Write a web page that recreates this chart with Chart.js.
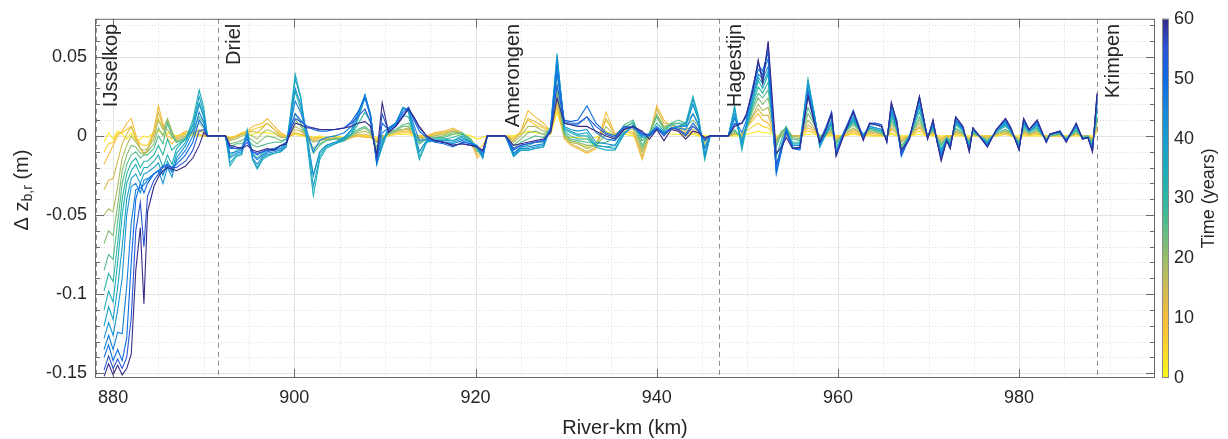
<!DOCTYPE html>
<html>
<head>
<meta charset="utf-8">
<script src="https://cdn.jsdelivr.net/npm/chart.js@4.4.1/dist/chart.umd.min.js"></script>
<style>
  html, body { margin: 0; padding: 0; background: #fff; }
  canvas { display: block; }
</style>
</head>
<body>
<canvas id="bedChart" width="1228" height="439"></canvas>
<script>
// River-km positions of the profile points
const riverKm = [
  879, 879.5, 880, 880.5, 881, 881.5, 882, 882.5, 883, 883.4, 883.8, 884.5, 885, 885.5, 886, 886.5, 887, 888, 888.8, 889.5, 890, 890.4, 891.5, 892.4,
  892.9, 893.6, 894.2, 894.8, 895.4, 895.9, 896.5, 897, 897.8, 898.5, 899.1, 899.6, 900.1, 900.7, 901.4, 902.1, 902.8, 903.5, 904.5, 905.5, 906.3, 907, 907.8, 908.4, 909.1, 909.7, 910.4, 911.2, 912, 912.6, 913.2, 913.8, 914.6, 915.5, 916.5, 917.5, 918.5, 919.5, 920.2, 920.8, 921.3, 922.5, 923.3,
  924.2, 925, 925.8, 926.6, 927.5, 928.3, 929, 929.8, 930.5, 931.3, 932.3, 933.3, 934.4, 935.4, 936.4, 937.4, 938.4, 939.2, 940, 940.8, 941.6, 942.4, 943.2, 944, 944.6, 945.3, 945.9, 947, 947.9,
  948.6, 949.4, 949.9, 950.6, 951.2, 951.7, 952.3, 953.2, 953.8, 954.3, 955, 955.8, 956.7, 957.4, 958, 958.7, 959.3, 959.8, 960.7, 961.7, 962.8, 963.5, 964.2, 964.8, 965.4, 965.9, 966.5, 967, 967.9, 969, 969.9, 970.5, 971, 971.4, 972, 972.4, 973, 973.8, 974.5, 974.9, 975.6, 976.5, 977.5, 978.5, 979.1, 980, 980.5, 981.1, 982, 983, 983.4, 984.5, 985.2, 986.3, 987, 987.6, 988.1, 988.6
];

// Bed level change (m) per snapshot year
const dz60 = [
  -0.152, -0.144, -0.151, -0.145, -0.151, -0.147, -0.138, -0.085, -0.058, -0.106, -0.048, -0.032, -0.026, -0.022, -0.020, -0.021, -0.022, -0.019, -0.014, -0.006, 0.002, 0, 0, 0,
  -0.006, -0.007, -0.008, -0.006, -0.009, -0.010, -0.009, -0.008, -0.009, -0.006, -0.005, 0.002, 0.008, 0.007, 0.005, 0.005, 0.004, 0.004, 0.004, 0.005, 0.006, 0.008, 0.009, 0.006, -0.012, 0.021, 0.002, 0.006, 0.012, 0.017, 0.012, 0.006, 0.000, -0.003, -0.004, -0.006, -0.005, -0.006, -0.007, -0.009, 0, 0, 0,
  -0.006, -0.005, -0.004, -0.003, -0.002, 0.002, 0.024, 0.008, 0.007, 0.006, 0.006, 0.003, 0.000, -0.002, 0.004, 0.006, 0.003, -0.002, 0.004, -0.003, 0.004, 0.003, -0.002, 0.003, 0.002, -0.001, 0, 0, 0,
  0.006, 0.008, 0.014, 0.028, 0.048, 0.033, 0.060, -0.011, -0.007, -0.001, -0.008, -0.007, 0.025, 0.008, -0.004, 0.004, 0.014, -0.013, 0.001, 0.015, -0.003, 0.008, 0.007, 0.006, -0.004, 0.021, 0.008, -0.009, -0.002, 0.025, -0.002, 0.010, -0.005, -0.016, -0.003, -0.008, 0.012, 0.006, -0.010, 0.005, 0.000, -0.007, 0.004, 0.011, 0.005, -0.009, 0.011, 0.004, 0.010, -0.004, 0.001, 0.003, -0.004, 0.008, -0.002, -0.001, -0.010, 0.027
];
const dz55 = [
  -0.148, -0.139, -0.147, -0.141, -0.147, -0.140, -0.115, -0.060, -0.042, -0.070, -0.038, -0.028, -0.024, -0.020, -0.019, -0.020, -0.020, -0.016, -0.009, 0.003, 0.004, 0, 0, 0,
  -0.007, -0.008, -0.008, -0.004, -0.010, -0.011, -0.010, -0.009, -0.009, -0.006, -0.005, 0.004, 0.011, 0.009, 0.006, 0.005, 0.004, 0.004, 0.004, 0.005, 0.008, 0.012, 0.017, 0.009, -0.015, 0.014, 0.003, 0.006, 0.013, 0.018, 0.011, 0.005, 0.000, -0.003, -0.004, -0.006, -0.005, -0.006, -0.007, -0.010, 0, 0, 0,
  -0.008, -0.006, -0.005, -0.004, -0.003, 0.003, 0.032, 0.009, 0.008, 0.008, 0.012, 0.006, 0.001, -0.001, 0.005, 0.006, 0.002, 0.000, 0.005, 0.000, 0.005, 0.004, 0.000, 0.006, 0.003, -0.002, 0, 0, 0,
  0.007, 0.008, 0.013, 0.030, 0.047, 0.037, 0.057, -0.018, -0.008, 0.002, -0.008, -0.008, 0.026, 0.009, -0.004, 0.005, 0.015, -0.012, 0.002, 0.016, -0.002, 0.008, 0.008, 0.007, -0.004, 0.021, 0.009, -0.011, -0.002, 0.025, -0.002, 0.010, -0.005, -0.015, -0.003, -0.008, 0.012, 0.006, -0.010, 0.005, 0.000, -0.007, 0.004, 0.011, 0.005, -0.009, 0.011, 0.004, 0.010, -0.004, 0.001, 0.003, -0.004, 0.008, -0.002, -0.001, -0.010, 0.026
];
const dz50 = [
  -0.140, -0.132, -0.142, -0.135, -0.142, -0.128, -0.080, -0.040, -0.030, -0.036, -0.030, -0.024, -0.022, -0.019, -0.018, -0.020, -0.018, -0.012, -0.004, 0.010, 0.006, 0, 0, 0,
  -0.008, -0.008, -0.007, -0.002, -0.010, -0.012, -0.010, -0.009, -0.008, -0.006, -0.004, 0.006, 0.014, 0.010, 0.006, 0.004, 0.003, 0.003, 0.004, 0.005, 0.009, 0.015, 0.024, 0.012, -0.016, 0.008, 0.004, 0.007, 0.015, 0.018, 0.010, 0.003, -0.001, -0.004, -0.005, -0.007, -0.004, -0.005, -0.007, -0.010, 0, 0, 0,
  -0.009, -0.006, -0.005, -0.004, -0.003, 0.004, 0.040, 0.010, 0.009, 0.010, 0.019, 0.008, 0.002, 0.000, 0.006, 0.005, 0.001, 0.001, 0.006, 0.002, 0.005, 0.004, 0.001, 0.008, 0.004, -0.003, 0, 0, 0,
  0.008, 0.008, 0.012, 0.031, 0.045, 0.041, 0.053, -0.024, -0.009, 0.004, -0.008, -0.009, 0.026, 0.010, -0.003, 0.006, 0.015, -0.011, 0.003, 0.016, -0.001, 0.008, 0.008, 0.007, -0.003, 0.020, 0.010, -0.013, -0.001, 0.024, -0.001, 0.009, -0.005, -0.013, -0.003, -0.007, 0.011, 0.005, -0.009, 0.005, 0.000, -0.006, 0.004, 0.010, 0.004, -0.008, 0.010, 0.004, 0.009, -0.004, 0.001, 0.003, -0.003, 0.007, -0.002, -0.001, -0.009, 0.025
];
const dz46 = [
  -0.135, -0.126, -0.135, -0.124, -0.125, -0.095, -0.055, -0.034, -0.033, -0.031, -0.028, -0.024, -0.022, -0.024, -0.019, -0.023, -0.016, -0.009, 0.000, 0.015, 0.009, 0, 0, 0,
  -0.011, -0.010, -0.009, 0.000, -0.012, -0.015, -0.012, -0.010, -0.009, -0.008, -0.005, 0.008, 0.022, 0.015, 0.003, -0.010, -0.003, -0.001, 0.000, 0.002, 0.006, 0.014, 0.026, 0.013, -0.017, 0.002, 0.005, 0.008, 0.017, 0.017, 0.007, -0.003, -0.002, -0.003, -0.004, -0.005, -0.003, -0.005, -0.007, -0.012, 0, 0, 0,
  -0.011, -0.007, -0.007, -0.006, -0.005, 0.005, 0.046, 0.008, 0.007, 0.007, 0.012, 0.002, -0.002, -0.003, 0.004, 0.006, 0.001, 0.001, 0.005, 0.002, 0.005, 0.005, 0.004, 0.014, 0.007, -0.008, 0, 0, 0,
  0.011, 0.002, 0.010, 0.029, 0.042, 0.039, 0.049, -0.023, -0.008, 0.004, -0.007, -0.008, 0.029, 0.012, -0.005, 0.004, 0.013, -0.011, 0.003, 0.014, -0.001, 0.007, 0.007, 0.006, -0.003, 0.018, 0.008, -0.012, -0.001, 0.022, -0.001, 0.008, -0.005, -0.012, -0.003, -0.007, 0.010, 0.005, -0.009, 0.005, 0.000, -0.006, 0.004, 0.009, 0.004, -0.008, 0.009, 0.004, 0.008, -0.004, 0.001, 0.003, -0.003, 0.007, -0.002, -0.001, -0.009, 0.024
];
const dz42 = [
  -0.128, -0.118, -0.126, -0.110, -0.090, -0.050, -0.032, -0.030, -0.036, -0.028, -0.027, -0.024, -0.022, -0.030, -0.020, -0.026, -0.014, -0.006, 0.004, 0.020, 0.012, 0, 0, 0,
  -0.014, -0.011, -0.010, 0.002, -0.014, -0.018, -0.013, -0.011, -0.010, -0.009, -0.006, 0.010, 0.030, 0.020, 0.000, -0.025, -0.010, -0.006, -0.004, -0.001, 0.004, 0.012, 0.026, 0.014, -0.018, -0.004, 0.005, 0.008, 0.018, 0.016, 0.004, -0.010, -0.003, -0.003, -0.004, -0.004, -0.002, -0.004, -0.006, -0.013, 0, 0, 0,
  -0.012, -0.008, -0.008, -0.007, -0.006, 0.006, 0.050, 0.006, 0.004, 0.003, 0.004, -0.004, -0.005, -0.006, 0.002, 0.006, 0.000, 0.001, 0.004, 0.001, 0.005, 0.006, 0.006, 0.020, 0.010, -0.012, 0, 0, 0,
  0.014, -0.004, 0.008, 0.026, 0.039, 0.036, 0.044, -0.021, -0.006, 0.003, -0.006, -0.006, 0.032, 0.013, -0.006, 0.002, 0.010, -0.010, 0.002, 0.012, 0.000, 0.006, 0.005, 0.004, -0.002, 0.016, 0.006, -0.011, 0.000, 0.019, -0.001, 0.007, -0.004, -0.011, -0.002, -0.006, 0.009, 0.004, -0.008, 0.004, 0.000, -0.005, 0.003, 0.008, 0.003, -0.007, 0.008, 0.003, 0.007, -0.003, 0.001, 0.002, -0.003, 0.006, -0.001, -0.001, -0.008, 0.022
];
const dz38 = [
  -0.120, -0.108, -0.116, -0.096, -0.070, -0.040, -0.027, -0.024, -0.030, -0.024, -0.023, -0.020, -0.017, -0.025, -0.016, -0.022, -0.011, -0.004, 0.007, 0.025, 0.015, 0, 0, 0,
  -0.017, -0.012, -0.011, 0.003, -0.015, -0.020, -0.014, -0.012, -0.011, -0.010, -0.007, 0.013, 0.036, 0.024, -0.002, -0.032, -0.013, -0.007, -0.005, -0.002, 0.003, 0.011, 0.025, 0.014, -0.018, -0.006, 0.005, 0.008, 0.018, 0.016, 0.002, -0.013, -0.004, -0.003, -0.003, -0.003, -0.001, -0.004, -0.007, -0.014, 0, 0, 0,
  -0.013, -0.009, -0.009, -0.008, -0.007, 0.006, 0.052, 0.005, 0.003, 0.001, 0.002, -0.006, -0.007, -0.008, 0.001, 0.007, -0.001, 0.000, 0.004, 0.001, 0.005, 0.006, 0.007, 0.023, 0.012, -0.014, 0, 0, 0,
  0.017, -0.007, 0.006, 0.024, 0.037, 0.033, 0.041, -0.020, -0.006, 0.003, -0.006, -0.006, 0.034, 0.014, -0.007, 0.002, 0.009, -0.010, 0.002, 0.011, 0.000, 0.006, 0.005, 0.004, -0.002, 0.015, 0.006, -0.011, 0.000, 0.019, -0.001, 0.007, -0.004, -0.010, -0.002, -0.006, 0.009, 0.004, -0.007, 0.004, 0.000, -0.005, 0.003, 0.008, 0.003, -0.007, 0.008, 0.003, 0.007, -0.003, 0.001, 0.002, -0.002, 0.006, -0.001, -0.001, -0.008, 0.020
];
const dz34 = [
  -0.110, -0.098, -0.105, -0.080, -0.050, -0.030, -0.022, -0.018, -0.025, -0.020, -0.020, -0.016, -0.012, -0.020, -0.012, -0.018, -0.008, -0.002, 0.010, 0.029, 0.018, 0, 0, 0,
  -0.019, -0.013, -0.012, 0.004, -0.015, -0.021, -0.015, -0.013, -0.011, -0.010, -0.007, 0.015, 0.039, 0.025, -0.004, -0.038, -0.015, -0.008, -0.005, -0.003, 0.001, 0.010, 0.024, 0.014, -0.017, -0.007, 0.004, 0.008, 0.018, 0.015, 0.000, -0.015, -0.004, -0.002, -0.002, -0.003, 0.000, -0.004, -0.008, -0.014, 0, 0, 0,
  -0.013, -0.009, -0.009, -0.008, -0.007, 0.005, 0.045, 0.004, 0.002, 0.000, 0.000, -0.007, -0.009, -0.009, 0.001, 0.007, -0.001, 0.000, 0.004, 0.001, 0.005, 0.006, 0.008, 0.025, 0.013, -0.015, 0, 0, 0,
  0.019, -0.009, 0.005, 0.022, 0.035, 0.030, 0.039, -0.019, -0.005, 0.003, -0.005, -0.005, 0.036, 0.014, -0.007, 0.001, 0.008, -0.009, 0.002, 0.010, 0.001, 0.005, 0.004, 0.003, -0.002, 0.014, 0.005, -0.010, 0.000, 0.018, 0.000, 0.006, -0.003, -0.009, -0.002, -0.005, 0.008, 0.004, -0.006, 0.003, 0.000, -0.004, 0.003, 0.007, 0.003, -0.006, 0.007, 0.003, 0.006, -0.003, 0.001, 0.002, -0.002, 0.005, -0.001, -0.001, -0.007, 0.018
];
const dz30 = [
  -0.098, -0.087, -0.092, -0.068, -0.040, -0.024, -0.017, -0.014, -0.020, -0.016, -0.016, -0.012, -0.006, -0.012, -0.002, -0.009, -0.006, -0.002, 0.007, 0.021, 0.013, 0, 0, 0,
  -0.013, -0.009, -0.008, 0.002, -0.011, -0.014, -0.011, -0.009, -0.008, -0.007, -0.005, 0.011, 0.028, 0.017, -0.002, -0.025, -0.011, -0.006, -0.004, -0.002, 0.001, 0.007, 0.015, 0.009, -0.013, -0.004, 0.003, 0.006, 0.013, 0.012, 0.001, -0.010, -0.003, -0.002, -0.002, -0.001, 0.001, -0.003, -0.008, -0.013, 0, 0, 0,
  -0.011, -0.007, -0.006, -0.004, -0.004, 0.005, 0.040, 0.003, 0.000, -0.002, -0.002, -0.006, -0.007, -0.006, 0.004, 0.009, -0.003, 0.001, 0.008, 0.003, 0.007, 0.008, 0.008, 0.020, 0.011, -0.012, 0, 0, 0,
  0.012, -0.005, 0.005, 0.020, 0.031, 0.027, 0.034, -0.013, -0.002, 0.005, -0.004, -0.004, 0.027, 0.011, -0.004, 0.002, 0.007, -0.007, 0.002, 0.009, 0.001, 0.005, 0.004, 0.003, -0.002, 0.012, 0.005, -0.009, 0.000, 0.015, 0.000, 0.005, -0.003, -0.008, -0.002, -0.004, 0.007, 0.003, -0.005, 0.003, 0.000, -0.004, 0.003, 0.006, 0.003, -0.005, 0.006, 0.003, 0.005, -0.003, 0.001, 0.002, -0.002, 0.004, -0.001, -0.001, -0.006, 0.015
];
const dz26 = [
  -0.085, -0.075, -0.078, -0.055, -0.030, -0.018, -0.012, -0.010, -0.014, -0.012, -0.012, -0.008, 0.000, -0.005, 0.008, 0.000, -0.004, -0.002, 0.004, 0.012, 0.008, 0, 0, 0,
  -0.007, -0.005, -0.005, -0.002, -0.006, -0.007, -0.006, -0.005, -0.004, -0.004, -0.002, 0.006, 0.014, 0.008, 0.000, -0.011, -0.006, -0.003, -0.002, -0.001, 0.001, 0.004, 0.006, 0.003, -0.009, -0.002, 0.002, 0.004, 0.007, 0.008, 0.003, -0.005, -0.002, -0.001, -0.001, 0.001, 0.002, -0.002, -0.009, -0.012, 0, 0, 0,
  -0.008, -0.004, -0.002, 0.000, -0.001, 0.004, 0.032, 0.002, -0.002, -0.003, -0.004, -0.005, -0.004, -0.001, 0.007, 0.010, -0.006, 0.002, 0.012, 0.004, 0.008, 0.010, 0.008, 0.014, 0.008, -0.008, 0, 0, 0,
  0.004, -0.002, 0.004, 0.018, 0.027, 0.024, 0.029, -0.007, 0.002, 0.006, -0.002, -0.003, 0.018, 0.008, -0.001, 0.002, 0.005, -0.005, 0.002, 0.008, 0.001, 0.004, 0.003, 0.002, -0.001, 0.010, 0.004, -0.007, 0.000, 0.012, 0.000, 0.004, -0.002, -0.006, -0.001, -0.003, 0.005, 0.002, -0.004, 0.002, 0.000, -0.003, 0.002, 0.004, 0.002, -0.004, 0.005, 0.002, 0.004, -0.002, 0.000, 0.001, -0.002, 0.003, -0.001, 0.000, -0.005, 0.012
];
const dz22 = [
  -0.068, -0.060, -0.063, -0.044, -0.022, -0.012, -0.006, -0.007, -0.011, -0.011, -0.010, -0.005, 0.005, 0.000, 0.010, 0.002, -0.004, -0.001, 0.003, 0.008, 0.005, 0, 0, 0,
  -0.005, -0.004, -0.003, 0.000, -0.003, -0.005, -0.002, 0.000, -0.001, -0.003, -0.002, 0.004, 0.010, 0.006, 0.000, -0.008, -0.005, -0.003, -0.002, -0.002, 0.000, 0.003, 0.005, 0.002, -0.007, -0.002, 0.001, 0.003, 0.006, 0.006, 0.002, -0.004, -0.002, -0.001, 0.000, 0.002, 0.002, -0.003, -0.010, -0.011, 0, 0, 0,
  -0.006, -0.002, 0.002, 0.003, 0.001, 0.004, 0.028, 0.001, -0.003, -0.004, -0.006, -0.006, 0.001, -0.001, 0.006, 0.008, -0.008, 0.002, 0.013, 0.005, 0.008, 0.008, 0.006, 0.010, 0.006, -0.006, 0, 0, 0,
  0.003, -0.001, 0.004, 0.016, 0.024, 0.020, 0.024, -0.005, 0.003, 0.005, -0.001, -0.002, 0.014, 0.007, -0.001, 0.002, 0.004, -0.004, 0.002, 0.007, 0.001, 0.004, 0.003, 0.002, -0.001, 0.009, 0.004, -0.006, 0.000, 0.010, 0.000, 0.004, -0.002, -0.005, -0.001, -0.003, 0.004, 0.002, -0.004, 0.002, 0.000, -0.003, 0.002, 0.004, 0.002, -0.004, 0.004, 0.002, 0.004, -0.002, 0.000, 0.001, -0.002, 0.003, -0.001, 0.000, -0.004, 0.010
];
const dz18 = [
  -0.050, -0.046, -0.048, -0.032, -0.014, -0.006, 0.000, -0.004, -0.008, -0.009, -0.008, -0.002, 0.010, 0.004, 0.011, 0.003, -0.003, 0.000, 0.002, 0.004, 0.003, 0, 0, 0,
  -0.003, -0.002, 0.000, 0.001, 0.000, -0.002, 0.002, 0.004, 0.002, -0.001, -0.001, 0.002, 0.006, 0.004, 0.000, -0.004, -0.003, -0.002, -0.001, -0.002, 0.000, 0.002, 0.003, 0.001, -0.004, -0.001, 0.001, 0.003, 0.004, 0.005, 0.002, -0.002, -0.001, 0.000, 0.001, 0.003, 0.002, -0.003, -0.010, -0.009, 0, 0, 0,
  -0.004, 0.000, 0.006, 0.006, 0.003, 0.003, 0.024, 0.000, -0.004, -0.005, -0.008, -0.006, 0.006, 0.000, 0.005, 0.006, -0.010, 0.001, 0.014, 0.006, 0.007, 0.006, 0.004, 0.006, 0.004, -0.004, 0, 0, 0,
  0.002, 0.000, 0.005, 0.013, 0.020, 0.016, 0.018, -0.003, 0.003, 0.004, 0.000, -0.001, 0.010, 0.005, 0.000, 0.001, 0.003, -0.003, 0.001, 0.005, 0.001, 0.003, 0.002, 0.001, -0.001, 0.007, 0.003, -0.004, 0.000, 0.008, 0.000, 0.003, -0.001, -0.004, -0.001, -0.002, 0.003, 0.001, -0.003, 0.001, 0.000, -0.002, 0.001, 0.003, 0.001, -0.003, 0.003, 0.001, 0.003, -0.001, 0.000, 0.001, -0.001, 0.002, 0.000, 0.000, -0.003, 0.008
];
const dz14 = [
  -0.034, -0.028, -0.027, -0.016, -0.005, 0.001, 0.006, -0.002, -0.008, -0.011, -0.009, 0.001, 0.015, 0.006, 0.004, -0.001, -0.002, 0.001, 0.002, 0.003, 0.002, 0, 0, 0,
  -0.002, -0.001, 0.001, 0.002, 0.003, 0.002, 0.005, 0.008, 0.004, 0.000, -0.001, 0.001, 0.004, 0.003, -0.001, -0.003, -0.002, -0.002, -0.002, -0.003, -0.001, 0.001, 0.001, 0.000, -0.004, -0.001, 0.001, 0.003, 0.004, 0.004, 0.001, -0.001, -0.001, 0.001, 0.002, 0.004, 0.002, -0.004, -0.012, -0.010, 0, 0, 0,
  -0.003, 0.002, 0.011, 0.009, 0.006, 0.003, 0.022, -0.001, -0.005, -0.007, -0.010, -0.007, 0.011, 0.001, 0.005, 0.004, -0.013, 0.001, 0.017, 0.008, 0.007, 0.005, 0.003, 0.004, 0.003, -0.003, 0, 0, 0,
  0.001, 0.001, 0.005, 0.012, 0.017, 0.013, 0.013, -0.003, 0.002, 0.003, 0.000, 0.000, 0.007, 0.004, 0.000, 0.001, 0.002, -0.002, 0.001, 0.004, 0.001, 0.002, 0.002, 0.001, -0.001, 0.005, 0.002, -0.003, 0.000, 0.006, 0.000, 0.002, -0.001, -0.003, 0.000, -0.001, 0.002, 0.001, -0.002, 0.001, 0.000, -0.001, 0.001, 0.002, 0.001, -0.002, 0.002, 0.001, 0.002, -0.001, 0.000, 0.001, -0.001, 0.001, 0.000, 0.000, -0.002, 0.006
];
const dz10 = [
  -0.018, -0.012, -0.006, 0.000, 0.003, 0.008, 0.011, 0.001, -0.008, -0.012, -0.010, 0.004, 0.019, 0.008, -0.002, -0.005, -0.001, 0.003, 0.002, 0.001, 0.000, 0, 0, 0,
  -0.002, 0.000, 0.002, 0.003, 0.006, 0.007, 0.008, 0.011, 0.006, 0.002, 0.000, 0.000, 0.002, 0.001, -0.001, -0.002, -0.001, -0.002, -0.002, -0.003, -0.001, 0.000, -0.001, -0.001, -0.003, 0.000, 0.001, 0.002, 0.003, 0.003, 0.001, 0.000, 0.000, 0.002, 0.003, 0.005, 0.002, -0.004, -0.014, -0.010, 0, 0, 0,
  -0.002, 0.003, 0.016, 0.012, 0.008, 0.003, 0.020, -0.002, -0.006, -0.008, -0.011, -0.008, 0.015, 0.001, 0.004, 0.002, -0.015, 0.000, 0.019, 0.010, 0.006, 0.004, 0.002, 0.003, 0.002, -0.002, 0, 0, 0,
  0.001, 0.002, 0.005, 0.010, 0.014, 0.010, 0.008, -0.002, 0.001, 0.002, 0.000, 0.000, 0.005, 0.003, 0.000, 0.001, 0.002, -0.001, 0.000, 0.003, 0.000, 0.002, 0.001, 0.001, -0.001, 0.004, 0.002, -0.002, 0.000, 0.005, 0.000, 0.002, -0.001, -0.002, 0.000, -0.001, 0.002, 0.001, -0.002, 0.001, 0.000, -0.001, 0.001, 0.002, 0.001, -0.002, 0.002, 0.001, 0.002, -0.001, 0.000, 0.000, -0.001, 0.001, 0.000, 0.000, -0.002, 0.005
];
const dz6 = [
  -0.010, -0.005, -0.004, 0.002, 0.002, 0.004, 0.006, -0.001, -0.005, -0.006, -0.006, 0.003, 0.011, 0.005, 0.000, -0.002, 0.000, 0.002, 0.001, 0.001, 0.000, 0, 0, 0,
  -0.001, 0.000, 0.002, 0.002, 0.004, 0.005, 0.006, 0.008, 0.004, 0.001, 0.000, 0.000, 0.002, 0.001, 0.000, -0.001, -0.001, -0.002, -0.001, -0.002, -0.001, 0.000, 0.000, -0.001, -0.002, 0.000, 0.000, 0.001, 0.002, 0.002, 0.001, 0.000, 0.000, 0.002, 0.002, 0.003, 0.001, -0.002, -0.008, -0.006, 0, 0, 0,
  -0.001, 0.002, 0.010, 0.007, 0.005, 0.002, 0.018, -0.001, -0.004, -0.005, -0.007, -0.005, 0.010, 0.001, 0.003, 0.001, -0.010, 0.000, 0.013, 0.006, 0.004, 0.003, 0.001, 0.002, 0.001, -0.001, 0, 0, 0,
  0.001, 0.001, 0.003, 0.006, 0.008, 0.006, 0.005, -0.001, 0.000, 0.001, 0.000, 0.000, 0.003, 0.002, 0.000, 0.000, 0.001, 0.000, 0.000, 0.002, 0.000, 0.001, 0.000, 0.000, 0.000, 0.002, 0.001, -0.001, 0.000, 0.003, 0.000, 0.001, 0.000, -0.001, 0.000, 0.000, 0.001, 0.000, -0.001, 0.000, 0.000, 0.000, 0.000, 0.001, 0.000, -0.001, 0.001, 0.000, 0.001, 0.000, 0.000, 0.000, 0.000, 0.001, 0.000, 0.000, -0.001, 0.003
];
const dz2 = [
  -0.004, 0.002, -0.002, 0.003, 0.001, -0.002, 0.002, -0.003, -0.002, 0.000, -0.001, 0.002, 0.003, 0.001, 0.002, 0.001, 0.000, 0.001, 0.000, 0.000, 0.000, 0, 0, 0,
  -0.001, 0.000, 0.001, 0.001, 0.001, 0.002, 0.002, 0.002, 0.001, 0.000, 0.000, 0.000, 0.001, 0.000, 0.000, -0.001, 0.000, -0.001, 0.000, -0.001, 0.000, 0.000, 0.000, 0.000, -0.001, 0.000, 0.000, 0.001, 0.001, 0.001, 0.000, 0.000, 0.000, 0.001, 0.001, 0.001, 0.001, 0.000, -0.002, -0.001, 0, 0, 0,
  0.000, 0.001, 0.003, 0.002, 0.001, 0.001, 0.015, 0.000, -0.001, -0.001, -0.002, -0.001, 0.003, 0.000, 0.001, 0.000, -0.003, 0.000, 0.004, 0.002, 0.001, 0.001, 0.000, 0.001, 0.000, 0.000, 0, 0, 0,
  0.000, 0.000, 0.001, 0.002, 0.003, 0.002, 0.002, 0.000, 0.000, 0.000, 0.000, 0.000, 0.001, 0.001, 0.000, 0.000, 0.000, 0.000, 0.000, 0.001, 0.000, 0.000, 0.000, 0.000, 0.000, 0.001, 0.000, 0.000, 0.000, 0.001, 0.000, 0.000, 0.000, 0.000, 0.000, 0.000, 0.000, 0.000, 0.000, 0.000, 0.000, 0.000, 0.000, 0.001, 0.000, 0.000, 0.000, 0.000, 0.000, 0.000, 0.000, 0.000, 0.000, 0.000, 0.000, 0.000, 0.000, 0.002
];

// newest first so it is drawn on top
const years = [60, 55, 50, 46, 42, 38, 34, 30, 26, 22, 18, 14, 10, 6, 2];
const profiles = [dz60, dz55, dz50, dz46, dz42, dz38, dz34, dz30, dz26, dz22, dz18, dz14, dz10, dz6, dz2];

const xTicks = [880, 900, 920, 940, 960, 980];
const yTicks = [-0.15, -0.1, -0.05, 0, 0.05];
const yTickLabels = ['-0.15', '-0.1', '-0.05', '0', '0.05'];
const cbTicks = [0, 10, 20, 30, 40, 50, 60];

const places = ['IJsselkop', 'Driel', 'Amerongen', 'Hagestijn', 'Krimpen'];
const placeKm = [878.1, 891.6, 922.4, 946.9, 988.6];
const placeDashed = [true, true, false, true, true];

const FONT = "'Liberation Sans', Arial, Helvetica, sans-serif";
const TEXT = '#262626';

// colour map (time in years -> colour), yellow to dark blue
const cmap = [
  [0, '#f7f715'], [5, '#fbd52c'], [10, '#f6bc3c'], [15, '#cebb55'], [20, '#9abd6b'],
  [25, '#5dbd89'], [30, '#2db6a3'], [35, '#1cacbd'], [40, '#1a9dd0'], [45, '#1585dc'],
  [50, '#0b6be2'], [55, '#2a55d6'], [60, '#352a87']
];

function hexToRgb(h) {
  return [parseInt(h.slice(1, 3), 16), parseInt(h.slice(3, 5), 16), parseInt(h.slice(5, 7), 16)];
}

function colorAt(t) {
  for (let i = 0; i < cmap.length - 1; i++) {
    const [t0, c0] = cmap[i];
    const [t1, c1] = cmap[i + 1];
    if (t >= t0 && t <= t1) {
      const f = (t - t0) / (t1 - t0);
      const a = hexToRgb(c0), b = hexToRgb(c1);
      const c = a.map((v, k) => Math.round(v + (b[k] - v) * f));
      return `rgb(${c[0]},${c[1]},${c[2]})`;
    }
  }
  return cmap[cmap.length - 1][1];
}

const datasets = years.map((yr, j) => ({
  label: yr + ' years',
  data: riverKm.map((km, i) => ({ x: km, y: profiles[j][i] })),
  borderColor: colorAt(yr),
  borderWidth: 1.1,
  pointRadius: 0,
  tension: 0,
  fill: false
}));

// grid, box, ticks, labels and colorbar
const framePlugin = {
  id: 'frame',
  beforeDatasetsDraw(chart) {
    const { ctx, chartArea: a, scales: { x, y } } = chart;
    ctx.save();
    ctx.lineWidth = 1;

    // minor grid (dotted)
    ctx.strokeStyle = '#dcdcdc';
    ctx.setLineDash([1, 2]);
    for (let k = 880; k < 995; k += 5) {
      if (k % 20 === 0) continue;
      const px = Math.round(x.getPixelForValue(k)) + 0.5;
      ctx.beginPath(); ctx.moveTo(px, a.top); ctx.lineTo(px, a.bottom); ctx.stroke();
    }
    for (let v = -15; v <= 7; v++) {
      if (v % 5 === 0) continue;
      const py = Math.round(y.getPixelForValue(v / 100)) + 0.5;
      ctx.beginPath(); ctx.moveTo(a.left, py); ctx.lineTo(a.right, py); ctx.stroke();
    }

    // major grid
    ctx.setLineDash([]);
    ctx.strokeStyle = '#e2e2e2';
    xTicks.forEach(k => {
      const px = Math.round(x.getPixelForValue(k)) + 0.5;
      ctx.beginPath(); ctx.moveTo(px, a.top); ctx.lineTo(px, a.bottom); ctx.stroke();
    });
    yTicks.forEach(v => {
      const py = Math.round(y.getPixelForValue(v)) + 0.5;
      ctx.beginPath(); ctx.moveTo(a.left, py); ctx.lineTo(a.right, py); ctx.stroke();
    });

    // dashed location lines
    ctx.strokeStyle = '#8c8c8c';
    ctx.setLineDash([5, 4]);
    placeKm.forEach((k, i) => {
      if (!placeDashed[i]) return;
      const px = Math.round(x.getPixelForValue(k)) + 0.5;
      ctx.beginPath(); ctx.moveTo(px, a.top); ctx.lineTo(px, a.bottom); ctx.stroke();
    });
    ctx.restore();
  },
  afterDatasetsDraw(chart) {
    const { ctx, chartArea: a, scales: { x, y } } = chart;
    ctx.save();

    // box
    ctx.strokeStyle = '#6a6a6a';
    ctx.lineWidth = 1;
    ctx.strokeRect(a.left + 0.5, a.top + 0.5, a.right - a.left - 1, a.bottom - a.top - 1);

    // tick marks, inside on all sides
    ctx.beginPath();
    xTicks.forEach(k => {
      const px = Math.round(x.getPixelForValue(k)) + 0.5;
      ctx.moveTo(px, a.bottom); ctx.lineTo(px, a.bottom - 9);
      ctx.moveTo(px, a.top); ctx.lineTo(px, a.top + 9);
    });
    for (let v = -15; v <= 7; v++) {
      const len = v % 5 === 0 ? 9 : 5;
      const py = Math.round(y.getPixelForValue(v / 100)) + 0.5;
      ctx.moveTo(a.left, py); ctx.lineTo(a.left + len, py);
      ctx.moveTo(a.right, py); ctx.lineTo(a.right - len, py);
    }
    ctx.stroke();

    // location names
    ctx.fillStyle = TEXT;
    ctx.font = `20px ${FONT}`;
    ctx.textAlign = 'right';
    ctx.textBaseline = 'middle';
    places.forEach((name, i) => {
      const px = x.getPixelForValue(placeKm[i]) + 16;
      ctx.save();
      ctx.translate(px, a.top + 5);
      ctx.rotate(-Math.PI / 2);
      ctx.fillText(name, 0, 0);
      ctx.restore();
    });

    // x axis title
    ctx.textAlign = 'center';
    ctx.font = `20px ${FONT}`;
    ctx.fillText('River-km (km)', (a.left + a.right) / 2, 428);

    // y axis title with subscript
    ctx.save();
    ctx.translate(22, 190);
    ctx.rotate(-Math.PI / 2);
    ctx.textAlign = 'left';
    const big = `20px ${FONT}`, small = `14px ${FONT}`;
    ctx.font = big; const w1 = ctx.measureText('\u0394 z').width;
    ctx.font = small; const w2 = ctx.measureText('b,r').width;
    ctx.font = big; const w3 = ctx.measureText(' (m)').width;
    let cx = -(w1 + w2 + w3) / 2;
    ctx.font = big; ctx.fillText('\u0394 z', cx, 0); cx += w1;
    ctx.font = small; ctx.fillText('b,r', cx, 6); cx += w2;
    ctx.font = big; ctx.fillText(' (m)', cx, 0);
    ctx.restore();

    // colorbar
    const cbL = 1162, cbW = 7, cbTop = a.top, cbBot = a.bottom;
    const grad = ctx.createLinearGradient(0, cbBot, 0, cbTop);
    cmap.forEach(([t, c]) => grad.addColorStop(t / 60, c));
    ctx.fillStyle = grad;
    ctx.fillRect(cbL, cbTop, cbW, cbBot - cbTop);
    ctx.strokeStyle = '#8a8a8a';
    ctx.strokeRect(cbL + 0.5, cbTop + 0.5, cbW - 1, cbBot - cbTop - 1);

    ctx.fillStyle = TEXT;
    ctx.font = `18px ${FONT}`;
    ctx.textAlign = 'left';
    ctx.textBaseline = 'middle';
    cbTicks.forEach(t => {
      const py = cbBot - (t / 60) * (cbBot - cbTop);
      ctx.fillText(String(t), 1174, py);
    });
    ctx.save();
    ctx.translate(1209, (cbTop + cbBot) / 2);
    ctx.rotate(-Math.PI / 2);
    ctx.textAlign = 'center';
    ctx.fillText('Time (years)', 0, 0);
    ctx.restore();

    ctx.restore();
  }
};

new Chart(document.getElementById('bedChart'), {
  type: 'line',
  data: { datasets },
  options: {
    responsive: false,
    animation: false,
    layout: { padding: { left: 0, right: 73, top: 15, bottom: 0 } },
    plugins: { legend: { display: false }, tooltip: { enabled: false } },
    scales: {
      x: {
        type: 'linear',
        min: 878,
        max: 995,
        grid: { display: false, drawTicks: false },
        border: { display: false },
        ticks: { font: { family: FONT, size: 18 }, color: TEXT, padding: 9, maxRotation: 0, autoSkip: false },
        afterBuildTicks: s => { s.ticks = xTicks.map(v => ({ value: v })); },
        afterFit: s => { s.height = 61; }
      },
      y: {
        type: 'linear',
        min: -0.153,
        max: 0.074,
        grid: { display: false, drawTicks: false },
        border: { display: false },
        ticks: {
          font: { family: FONT, size: 18 },
          color: TEXT,
          padding: 8,
          autoSkip: false,
          callback: v => yTickLabels[yTicks.indexOf(v)]
        },
        afterBuildTicks: s => { s.ticks = yTicks.map(v => ({ value: v })); },
        afterFit: s => { s.width = 95; }
      }
    }
  },
  plugins: [framePlugin]
});
</script>
</body>
</html>
